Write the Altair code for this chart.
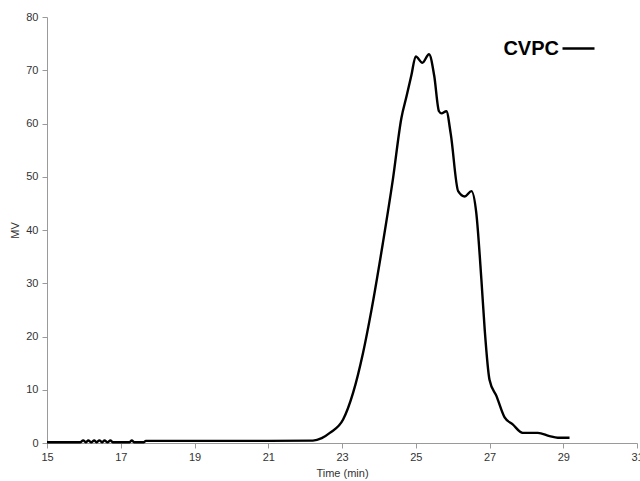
import altair as alt
import pandas as pd

# Chromatogram trace: retention time (min) vs detector signal (MV)
time_min = [
    15.0, 15.9, 15.98, 16.06, 16.12, 16.2, 16.28, 16.34, 16.42, 16.5, 16.56, 16.64,
    16.72, 16.78, 16.86, 17.24, 17.3, 17.36, 17.62, 17.68, 19.0, 21.0, 22.21,
    22.45, 22.67, 23.03, 23.3, 23.57, 23.8, 24.11, 24.38, 24.61, 24.75, 24.88,
    25.0, 25.18, 25.36, 25.5, 25.63, 25.7, 25.83, 25.95, 26.15, 26.33, 26.51, 26.64,
    26.78, 26.87, 27.0, 27.19, 27.41, 27.63, 27.9, 28.31, 28.63, 28.85, 29.17,
]
signal_mv = [
    0.15, 0.15, 0.5, 0.15, 0.5, 0.15, 0.5, 0.15, 0.5, 0.15, 0.5, 0.15,
    0.5, 0.15, 0.15, 0.15, 0.5, 0.15, 0.15, 0.4, 0.4, 0.4, 0.45,
    0.9, 1.9, 4.4, 9.4, 16.9, 25.0, 37.6, 49.5, 61.0, 65.1, 69.0,
    72.6, 71.4, 73.0, 69.0, 62.3, 61.9, 62.3, 58.0, 47.3, 46.3, 47.3, 43.3,
    30.7, 21.3, 11.9, 8.8, 4.8, 3.5, 1.9, 1.9, 1.3, 1.0, 1.0,
]
series_name = "CVPC"

x_ticks = [15, 17, 19, 21, 23, 25, 27, 29, 31]
y_ticks = [0, 10, 20, 30, 40, 50, 60, 70, 80]

df = pd.DataFrame({"time": time_min, "mv": signal_mv, "sample": series_name})

FONT = "Liberation Sans"

chart = (
    alt.Chart(df)
    .mark_line(color="black", strokeWidth=2.4, interpolate="monotone", clip=False)
    .encode(
        x=alt.X(
            "time:Q",
            scale=alt.Scale(domain=[15, 31], nice=False, zero=False),
            axis=alt.Axis(
                title="Time (min)",
                values=x_ticks,
                grid=False,
                domainColor="#9a9a9a",
                tickColor="#9a9a9a",
                tickSize=5,
                labelColor="#333333",
                labelFontSize=11,
                labelPadding=3,
                labelFlush=False,
                titleFontSize=11,
                titleFontWeight="normal",
                titleColor="#333333",
                titlePadding=5,
            ),
        ),
        y=alt.Y(
            "mv:Q",
            scale=alt.Scale(domain=[0, 80], nice=False),
            axis=alt.Axis(
                title="MV",
                values=y_ticks,
                grid=False,
                domainColor="#9a9a9a",
                tickColor="#9a9a9a",
                tickSize=5,
                labelColor="#333333",
                labelFontSize=11,
                labelPadding=4,
                titleFontSize=11,
                titleFontWeight="normal",
                titleColor="#333333",
                titlePadding=5,
            ),
        ),
        color=alt.Color(
            "sample:N",
            scale=alt.Scale(range=["black"]),
            legend=alt.Legend(
                title=None,
                orient="none",
                legendX=514,
                legendY=14,
                symbolType="stroke",
                symbolSize=1024,
                symbolStrokeWidth=2.4,
                symbolStrokeColor="black",
                labelAlign="right",
                labelOffset={"expr": "-37"},
                labelFontSize=20,
                labelFontWeight="bold",
                labelColor="black",
            ),
        ),
    )
    .properties(
        width=590,
        height=426,
        autosize=alt.AutoSizeParams(type="none"),
        padding={"left": 47, "top": 17, "right": 3, "bottom": 38},
    )
    .configure(font=FONT)
    .configure_view(stroke=None)
)

chart.save("out.html", embed_options={"renderer": "svg", "actions": False})
